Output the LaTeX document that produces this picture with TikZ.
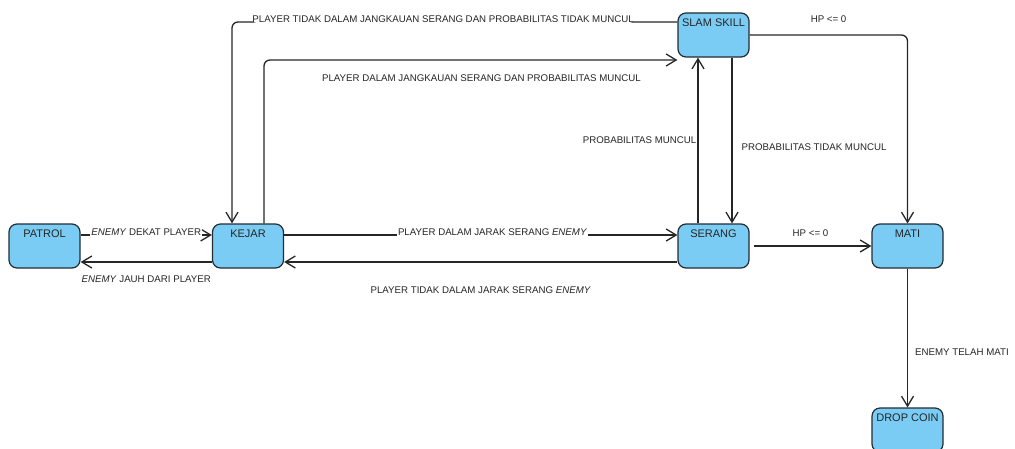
\documentclass[tikz,border=0pt]{standalone}
\usepackage{fontspec}
\setmainfont{Liberation Sans}
\usetikzlibrary{arrows.meta}
\definecolor{statefill}{RGB}{122,204,244}
\definecolor{stateline}{RGB}{34,44,50}
\definecolor{edgeline}{RGB}{38,38,38}

\begin{document}
\begin{tikzpicture}[x=1pt, y=-1pt,
    state/.style={draw=stateline, line width=1.2pt, fill=statefill, rounded corners=8pt, minimum width=71pt, inner xsep=1pt, inner ysep=2pt, text height=11.5pt, text depth=28.5pt, font=\fontsize{11}{13}\selectfont, text=black!85},
    trans/.style={draw=edgeline, line width=1.3pt, -{Straight Barb[length=10pt,width=12pt]}},
    lbl/.style={font=\fontsize{9.7}{11}\selectfont, text=edgeline, inner sep=1pt},
    onlbl/.style={lbl, fill=white, anchor=base}]
    \useasboundingbox (0,0) rectangle (1015,448);

    % States
    \node[state] (patrol) at (44.5,246) {PATROL};
    \node[state] (kejar) at (248,246) {KEJAR};
    \node[state] (serang) at (713.5,246) {SERANG};
    \node[state] (mati) at (907.5,246) {MATI};
    \node[state] (slam) at (713.5,35) {SLAM SKILL};
    \node[state] (drop) at (907.5,430) {DROP COIN};

    % Patrol <-> Kejar
    \draw[trans] ([yshift=11pt]patrol.east) -- node[onlbl]{\textit{ENEMY} DEKAT PLAYER} ([yshift=11pt]kejar.west);
    \draw[trans] ([yshift=-16pt]kejar.west) -- node[lbl, below=12pt]{\textit{ENEMY} JAUH DARI PLAYER} ([yshift=-16pt]patrol.east);

    % Kejar <-> Serang
    \draw[trans] ([yshift=11pt]kejar.east) -- node[onlbl, pos=0.53]{PLAYER DALAM JARAK SERANG \textit{ENEMY}} ([yshift=11pt]serang.west);
    \draw[trans] ([yshift=-16pt]serang.west) -- node[lbl, below=23pt]{PLAYER TIDAK DALAM JARAK SERANG \textit{ENEMY}} ([yshift=-16pt]kejar.east);

    % Serang <-> Slam Skill
    \draw[trans] ([xshift=-15.5pt]serang.north) -- node[lbl, left=0pt]{PROBABILITAS MUNCUL} ([xshift=-15.5pt]slam.south);
    \draw[trans] ([xshift=18.5pt]slam.south) -- node[lbl, right=8pt, pos=0.54]{PROBABILITAS TIDAK MUNCUL} ([xshift=18.5pt]serang.north);

    % Kejar <-> Slam Skill
    \draw[trans, rounded corners=6pt] ([yshift=13pt]slam.west) -| node[onlbl, pos=0.263]{PLAYER TIDAK DALAM JANGKAUAN SERANG DAN PROBABILITAS TIDAK MUNCUL} ([xshift=-16pt]kejar.north);
    \draw[trans, rounded corners=6pt] ([xshift=16pt]kejar.north) |- node[lbl, pos=0.763, below=13pt]{PLAYER DALAM JANGKAUAN SERANG DAN PROBABILITAS MUNCUL} ([yshift=-25pt]slam.west);

    % HP <= 0 -> Mati
    \draw[trans, rounded corners=6pt] (slam.east) -| node[lbl, pos=0.25, above=11pt]{HP <= 0} (mati.north);
    \draw[trans, shorten <=4pt] (serang.east) -- node[lbl, above=8pt]{HP <= 0} (mati.west);

    % Mati -> Drop Coin
    \draw[trans] (mati.south) -- node[lbl, right=6pt, pos=0.6]{ENEMY TELAH MATI} (drop.north);
\end{tikzpicture}
\end{document}
